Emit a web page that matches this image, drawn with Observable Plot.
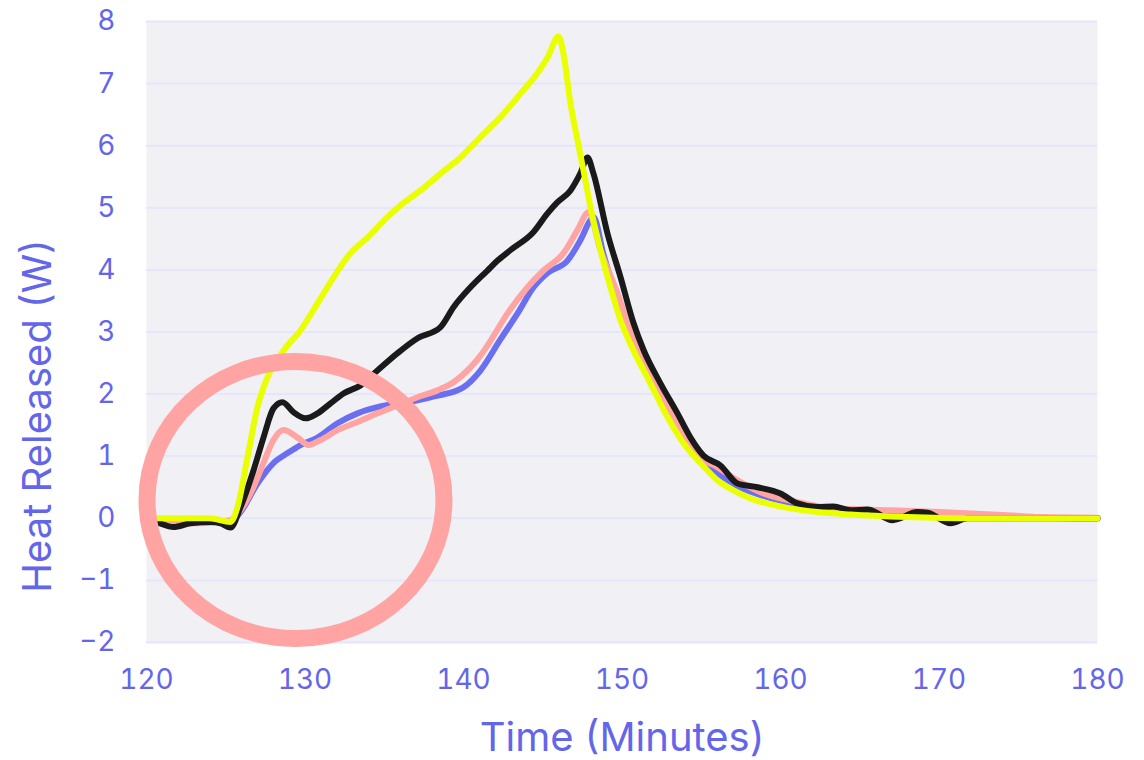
<!DOCTYPE html>
<html>
<head>
<meta charset="utf-8">
<script src="https://cdn.jsdelivr.net/npm/d3@7"></script>
<script src="https://cdn.jsdelivr.net/npm/@observablehq/plot@0.6"></script>
<style>
  html, body { margin: 0; padding: 0; background: #ffffff; }
  #chart { width: 1144px; height: 760px; }
</style>
</head>
<body>
<div id="chart"></div>
<script>
// Time (minutes), heat released (W)
const blueSeries = [
  [120,-0.02],[124.5,-0.05],[125.3,-0.05],[125.93,0.10],[127.0,0.56],[128.01,0.89],[128.9,1.05],
  [129.72,1.18],[130.79,1.30],[132.05,1.53],[133.31,1.69],[134.57,1.79],[135.84,1.85],[137.1,1.90],
  [137.92,1.95],[138.99,2.01],[140.0,2.11],[141.07,2.38],[142.33,2.88],[143.41,3.30],[144.42,3.72],
  [145.3,3.95],[146.56,4.15],[147.38,4.48],[148.01,4.80],[148.2,4.85],[148.83,4.25],[149.72,3.52],
  [150.73,2.78],[151.8,2.19],[152.87,1.72],[153.88,1.30],[154.95,0.92],[156.03,0.72],[157.29,0.52],
  [158.93,0.36],[161.07,0.22],[163.34,0.13],[167,0.08],[172,0.03],[180,0]
];
const pinkSeries = [
  [120,-0.02],[120.57,-0.03],[123.22,-0.08],[124.48,-0.06],[125.3,-0.03],[125.93,0.13],[126.75,0.50],
  [127.38,0.89],[128.01,1.26],[128.64,1.42],[129.53,1.30],[130.22,1.18],[130.98,1.26],[132.05,1.42],
  [133.31,1.55],[134.57,1.69],[135.84,1.82],[137.1,1.95],[138.36,2.06],[139.37,2.19],[140.44,2.43],
  [141.07,2.62],[141.51,2.78],[142.78,3.30],[144.04,3.72],[145.05,3.99],[146.31,4.27],[147.19,4.64],
  [147.89,4.93],[148.64,4.32],[149.72,3.62],[150.73,2.87],[151.8,2.27],[152.87,1.79],[153.88,1.37],
  [154.95,0.98],[156.03,0.82],[157.29,0.61],[158.93,0.40],[161.07,0.26],[163.34,0.16],[166.94,0.13],
  [170.09,0.10],[174.32,0.05],[176.4,0.02],[180,0.01]
];
const blackSeries = [
  [120,-0.03],[120.57,-0.06],[121.7,-0.14],[122.78,-0.08],[124.04,-0.06],[124.67,-0.08],[125.3,-0.15],
  [125.93,0.18],[126.75,0.77],[127.38,1.30],[128.01,1.77],[128.58,1.87],[129.27,1.71],[130.03,1.61],
  [130.79,1.69],[131.61,1.85],[132.43,2.01],[133.5,2.14],[134.57,2.38],[135.84,2.66],[137.1,2.90],
  [138.55,3.08],[139.37,3.40],[140.44,3.72],[141.51,3.99],[142.15,4.15],[142.97,4.32],[144.42,4.61],
  [145.3,4.91],[145.93,5.09],[146.75,5.28],[147.38,5.56],[147.82,5.81],[148.2,5.55],[149.08,4.59],
  [149.91,3.88],[150.73,3.14],[151.36,2.71],[152.43,2.17],[153.5,1.69],[154.32,1.30],[155.14,1.01],
  [156.21,0.85],[157.29,0.56],[158.55,0.50],[160.0,0.40],[161.07,0.24],[162.33,0.18],[163.34,0.19],
  [164.42,0.13],[165.49,0.14],[167.07,-0.03],[168.64,0.10],[169.27,0.09],[170.73,-0.08],[171.8,0.0],
  [180,0]
];
const yellowSeries = [
  [120,0],[123.97,0],[125.3,-0.06],[125.74,0.18],[126.37,0.98],[127.0,1.79],[127.63,2.27],[128.64,2.70],
  [129.72,3.03],[130.79,3.46],[131.8,3.88],[132.87,4.27],[133.94,4.52],[135.2,4.85],[136.03,5.04],
  [137.29,5.28],[138.55,5.55],[139.81,5.81],[141.07,6.14],[142.33,6.46],[143.6,6.84],[144.67,7.17],
  [145.3,7.42],[146.0,7.76],[146.3,7.49],[146.75,6.68],[147.19,6.09],[147.57,5.60],[148.01,5.01],
  [148.64,4.32],[149.27,3.72],[149.91,3.19],[150.73,2.70],[151.8,2.17],[152.87,1.63],[153.88,1.21],
  [154.95,0.89],[156.03,0.61],[157.03,0.45],[158.11,0.32],[160.19,0.18],[162.33,0.10],[164.42,0.06],
  [168,0.02],[172,0],[180,0]
];
const highlight = [[129.4, 0.295]];
const xTicks = [120, 130, 140, 150, 160, 170, 180];
const yTicks = [-2, -1, 0, 1, 2, 3, 4, 5, 6, 7, 8];
const xLabel = "Time (Minutes)";
const yLabel = "Heat Released (W)";

const textColor = "#6466ea";

// ellipse symbol (slightly flattened ring)
const ellipseSymbol = {
  draw(context, size) {
    const rx = Math.sqrt(size / Math.PI);
    const ry = rx * 0.933;
    const k = 0.5523;
    context.moveTo(rx, 0);
    context.bezierCurveTo(rx, ry * k, rx * k, ry, 0, ry);
    context.bezierCurveTo(-rx * k, ry, -rx, ry * k, -rx, 0);
    context.bezierCurveTo(-rx, -ry * k, -rx * k, -ry, 0, -ry);
    context.bezierCurveTo(rx * k, -ry, rx, -ry * k, rx, 0);
    context.closePath();
  }
};

const lineOpts = {x: d => d[0], y: d => d[1], strokeWidth: 6, strokeLinejoin: "round", strokeLinecap: "round", curve: "monotone-x"};

const chart = Plot.plot({
  width: 1144,
  height: 760,
  marginLeft: 146,
  marginRight: 47,
  marginTop: 21,
  marginBottom: 118,
  style: {fontFamily: "Inter, 'Noto Sans', sans-serif", color: textColor, background: "#ffffff", overflow: "visible"},
  x: {domain: [120, 180], ticks: xTicks},
  y: {domain: [-2, 8], ticks: yTicks},
  marks: [
    Plot.frame({fill: "#f1f0f4", stroke: null}),
    Plot.gridY(yTicks, {stroke: "#e5e5fb", strokeOpacity: 1, strokeWidth: 2}),
    Plot.axisX(xTicks, {tickSize: 0, tickPadding: 27, fontSize: 28, label: null, fill: textColor}),
    Plot.axisY(yTicks, {tickSize: 0, tickPadding: 31, fontSize: 28, label: null, fill: textColor, tickFormat: d => d < 0 ? "\u2212" + Math.abs(d) : String(d)}),
    Plot.line(blueSeries, {...lineOpts, stroke: "#6a6ef0"}),
    Plot.line(pinkSeries, {...lineOpts, stroke: "#ffa3a3"}),
    Plot.line(blackSeries, {...lineOpts, stroke: "#1a1a1a"}),
    Plot.line(yellowSeries, {...lineOpts, stroke: "#eaff00"}),
    Plot.dot(highlight, {x: d => d[0], y: d => d[1], r: 148.5, symbol: ellipseSymbol, stroke: "#ffa3a3", strokeWidth: 17, fill: "none"}),
    Plot.text([yLabel], {frameAnchor: "left", textAnchor: "middle", lineAnchor: "middle", rotate: -90, dx: -108, dy: 84, fontSize: 40, fill: textColor}),
    Plot.text([xLabel], {frameAnchor: "bottom", textAnchor: "middle", lineAnchor: "middle", dy: 96, fontSize: 40, fill: textColor})
  ]
});
document.getElementById("chart").appendChild(chart);
</script>
</body>
</html>
